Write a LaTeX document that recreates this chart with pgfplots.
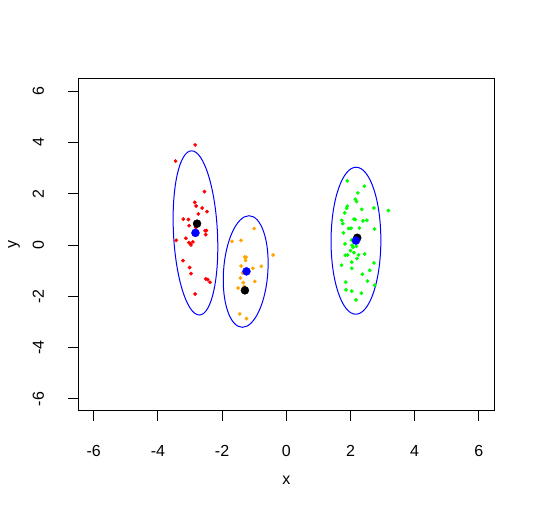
\documentclass[border=0pt]{standalone}
\usepackage{fontspec}
\setmainfont{Liberation Sans}
\usepackage{pgfplots}
\pgfplotsset{compat=1.18}

\definecolor{rorange}{RGB}{255,165,0}
\definecolor{rgreen}{RGB}{0,255,0}

\begin{document}
\begin{tikzpicture}
\useasboundingbox (-78.3pt,-98.3pt) rectangle (456.7pt,410.7pt);
\begin{axis}[
    at={(0pt,0pt)}, anchor=south west,
    scale only axis,
    width=416pt, height=332pt,
    xmin=-6.48, xmax=6.48,
    ymin=-6.46, ymax=6.48,
    xtick={-6,-4,-2,0,2,4,6},
    ytick={-6,-4,-2,0,2,4,6},
    xtick pos=bottom, ytick pos=left,
    tick align=outside,
    major tick length=10pt,
    axis line style={black, line width=0.9pt},
    every tick/.style={black, line width=0.9pt},
    /pgf/number format/assume math mode=true,
    tick label style={font=\fontsize{16}{19}\selectfont},
    xticklabel style={anchor=center, yshift=-30pt},
    yticklabel style={anchor=center, xshift=-30pt, rotate=90},
    every axis x label/.style={at={(axis description cs:0.5,0)}, anchor=center,
        yshift=-69.3pt, font=\fontsize{16}{19}\selectfont},
    every axis y label/.style={at={(axis description cs:0,0.5)}, xshift=-64.3pt,
        rotate=90, anchor=center, font=\fontsize{16}{19}\selectfont},
    xlabel={x}, ylabel={y},
]
% cluster 1
\addplot[only marks, mark=*, mark size=1.7pt, color=red] coordinates {
    (-2.84,3.90) (-3.45,3.27) (-2.55,2.08) (-2.85,1.66) (-2.81,1.52)
    (-2.62,1.44) (-2.47,1.30) (-2.74,1.21) (-3.21,1.01) (-3.05,0.99)
    (-3.03,0.75) (-2.82,0.68) (-2.53,0.55) (-2.49,0.56) (-2.51,0.40)
    (-3.43,0.18) (-3.13,0.26) (-3.03,0.09) (-2.97,0.00) (-2.91,0.12)
    (-2.99,0.05) (-3.22,-0.61) (-3.01,-0.88) (-2.97,-1.12) (-2.51,-1.32)
    (-2.45,-1.35) (-2.38,-1.45) (-2.84,-1.91)
};
% cluster 2
\addplot[only marks, mark=*, mark size=1.7pt, color=rorange] coordinates {
    (-1.00,0.64) (-1.69,0.14) (-1.41,0.18) (-0.41,-0.39) (-1.30,-0.47)
    (-1.25,-0.48) (-1.27,-0.60) (-1.41,-0.82) (-0.78,-0.83) (-1.04,-0.91)
    (-1.36,-1.09) (-1.43,-1.29) (-0.98,-1.42) (-1.34,-1.47) (-1.50,-1.68)
    (-1.31,-1.62) (-1.45,-2.69) (-1.24,-2.87)
};
% cluster 3
\addplot[only marks, mark=*, mark size=1.7pt, color=rgreen] coordinates {
    (1.90,2.50) (2.43,2.29) (2.23,2.03) (3.18,1.34) (2.15,1.78)
    (2.19,1.69) (1.90,1.51) (1.88,1.43) (2.35,1.39) (2.73,1.44)
    (1.82,1.25) (1.73,0.96) (2.11,1.01) (2.15,0.99) (2.39,0.94)
    (2.51,0.96) (1.76,0.83) (1.94,0.64) (2.02,0.65) (2.28,0.66)
    (2.75,0.62) (1.78,0.47) (2.23,0.36) (2.03,0.19) (1.83,0.04)
    (2.05,-0.01) (2.18,-0.05) (2.08,-0.09) (2.00,-0.22) (2.11,-0.30)
    (2.44,-0.35) (1.84,-0.40) (1.91,-0.39) (2.25,-0.39) (2.20,-0.53)
    (2.04,-0.67) (2.73,-0.70) (1.72,-0.79) (2.04,-0.91) (2.60,-0.99)
    (2.37,-1.14) (2.53,-1.41) (1.85,-1.45) (2.75,-1.57) (1.86,-1.75)
    (2.04,-1.80) (2.34,-1.88) (2.17,-2.14)
};
% ellipses (radii in canvas units for the 416pt x 332pt axis)
\draw[blue, line width=1pt, shift={(axis cs:-2.83,0.47)}, xslant=-0.047]
      (0pt,0pt) ellipse[x radius=22.0pt, y radius=82.1pt];
\draw[blue, line width=1pt, shift={(axis cs:-1.265,-1.035)}, xslant=0.060]
      (0pt,0pt) ellipse[x radius=22.2pt, y radius=55.8pt];
\draw[blue, line width=1pt, shift={(axis cs:2.17,0.165)}, xslant=0.002]
      (0pt,0pt) ellipse[x radius=24.9pt, y radius=73.5pt];
% centres
\addplot[only marks, mark=*, mark size=4pt, color=black] coordinates {
    (-2.78,0.83) (-1.29,-1.77) (2.21,0.28)
};
\addplot[only marks, mark=*, mark size=4pt, color=blue] coordinates {
    (-2.83,0.47) (-1.24,-1.03) (2.17,0.17)
};
\end{axis}
\end{tikzpicture}
\end{document}
